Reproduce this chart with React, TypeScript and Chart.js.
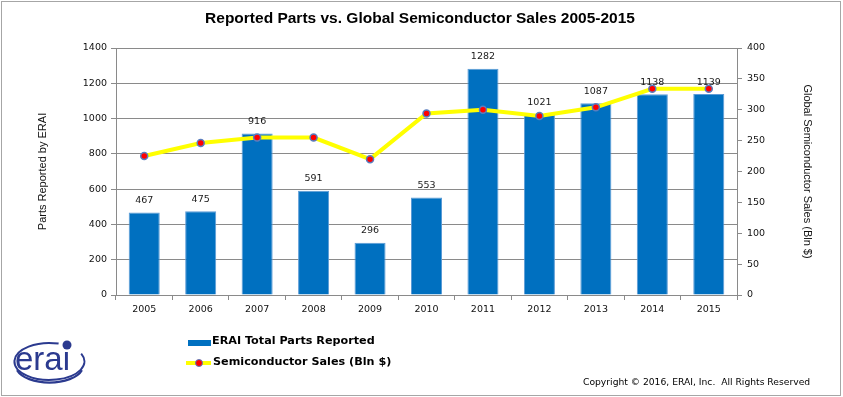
import React, { useEffect, useRef } from "react";
import { Chart, registerables } from "chart.js";

Chart.register(...registerables);

const years = ["2005", "2006", "2007", "2008", "2009", "2010", "2011", "2012", "2013", "2014", "2015"];
const partsReported = [467, 475, 916, 591, 296, 553, 1282, 1021, 1087, 1138, 1139];
const semiSales = [225, 246, 255, 255, 220, 294, 300, 290, 304, 334, 334];
const partsLabel = "ERAI Total Parts Reported";
const salesLabel = "Semiconductor Sales (Bln $)";
const titleText = "Reported Parts vs. Global Semiconductor Sales 2005-2015";
const leftTitle = "Parts Reported by ERAI";
const rightTitle = "Global Semiconductor Sales (Bln $)";
const copyright = "Copyright \u00A9 2016, ERAI, Inc.  All Rights Reserved";

const BAR = "#0070C0";
const GRID = "#8A8A8A";
const NAVY = "#2B3A8F";
const TICK_FONT = { family: "'DejaVu Sans', Verdana, sans-serif", size: 9.5 };

const barLabels = {
  id: "barLabels",
  afterDatasetDraw(chart: any, args: any) {
    if (args.index !== 1) return;
    const ctx = chart.ctx;
    ctx.save();
    ctx.font = "9.5px 'DejaVu Sans', Verdana, sans-serif";
    ctx.fillStyle = "#1a1a1a";
    ctx.textAlign = "center";
    ctx.textBaseline = "middle";
    args.meta.data.forEach((el: any, i: number) => {
      ctx.fillText(String(partsReported[i]), el.x, el.y - 12);
    });
    ctx.restore();
  },
};

export default function App() {
  const ref = useRef<HTMLCanvasElement>(null);
  useEffect(() => {
    document.body.style.margin = "0";
    const chart = new Chart(ref.current as HTMLCanvasElement, {
      type: "bar",
      data: {
        labels: years,
        datasets: [
          {
            type: "line",
            label: salesLabel,
            data: semiSales,
            yAxisID: "y1",
            borderColor: "#FFFF00",
            borderWidth: 4,
            tension: 0,
            pointRadius: 3.5,
            pointBackgroundColor: "#FF0000",
            pointBorderColor: "#5A7DBE",
            pointBorderWidth: 1.5,
          } as any,
          {
            type: "bar",
            label: partsLabel,
            data: partsReported,
            yAxisID: "y",
            backgroundColor: BAR,
            borderColor: "#5C9BD6",
            borderWidth: 1,
            categoryPercentage: 1,
            barPercentage: 0.55,
          } as any,
        ],
      },
      options: {
        responsive: false,
        animation: false,
        devicePixelRatio: 1,
        layout: { padding: { left: 30, right: 20, top: 48, bottom: 77 } },
        plugins: { legend: { display: false }, tooltip: { enabled: false }, title: { display: false } },
        scales: {
          x: {
            offset: true,
            grid: { offset: true, drawOnChartArea: false, drawTicks: true, tickLength: 5, color: GRID },
            border: { color: GRID },
            ticks: { font: TICK_FONT, color: "#111", padding: 4, maxRotation: 0 },
            afterFit: (s: any) => { s.height = 25; },
          },
          y: {
            position: "left",
            min: 0,
            max: 1400,
            ticks: { stepSize: 200, font: TICK_FONT, color: "#111", padding: 4, callback: (v: any) => String(v) },
            grid: { color: GRID, tickLength: 5 },
            border: { color: GRID },
            title: {
              display: true,
              text: leftTitle,
              font: { family: "'Liberation Sans', Arial, sans-serif", size: 11 },
              color: "#111",
              padding: { top: 6, bottom: 0 },
            },
            afterFit: (s: any) => { s.width = 86; },
          },
          y1: {
            position: "right",
            min: 0,
            max: 400,
            ticks: { stepSize: 50, font: TICK_FONT, color: "#111", padding: 5, callback: (v: any) => String(v) },
            grid: { drawOnChartArea: false, color: GRID, tickLength: 5 },
            border: { color: GRID },
            title: {
              display: true,
              text: rightTitle,
              font: { family: "'Liberation Sans', Arial, sans-serif", size: 11 },
              color: "#111",
              padding: { top: 9, bottom: 0 },
            },
            afterFit: (s: any) => { s.width = 86; },
          },
        },
      } as any,
      plugins: [barLabels],
    });
    return () => chart.destroy();
  }, []);

  return (
    <div style={{ position: "relative", width: 843, height: 397, background: "#fff", overflow: "hidden" }}>
      <canvas ref={ref} width={843} height={397} style={{ position: "absolute", left: 0, top: 0 }} />
      <div
        style={{
          position: "absolute", left: 1, top: 1, width: 838, height: 393,
          border: "1px solid #A6A6A6", pointerEvents: "none",
        }}
      />
      <div
        style={{
          position: "absolute", left: 0, width: 840, top: 9, textAlign: "center",
          font: "bold 15.5px 'Liberation Sans', Arial, sans-serif", color: "#000",
        }}
      >
        {titleText}
      </div>
      {/* legend */}
      <div style={{ position: "absolute", left: 188, top: 340, width: 23, height: 6, background: BAR }} />
      <div
        style={{
          position: "absolute", left: 212, top: 334, whiteSpace: "pre",
          font: "bold 11.2px 'DejaVu Sans', Verdana, sans-serif", color: "#000",
        }}
      >
        {partsLabel}
      </div>
      <div style={{ position: "absolute", left: 186, top: 361, width: 25, height: 4, background: "#FFFF00" }} />
      <div
        style={{
          position: "absolute", left: 195, top: 359, width: 6, height: 6, borderRadius: 4,
          background: "#FF0000", border: "1px solid #5A7DBE",
        }}
      />
      <div
        style={{
          position: "absolute", left: 213, top: 355, whiteSpace: "pre",
          font: "bold 11.2px 'DejaVu Sans', Verdana, sans-serif", color: "#000",
        }}
      >
        {salesLabel}
      </div>
      {/* logo */}
      <svg style={{ position: "absolute", left: 5, top: 330 }} width={90} height={60}>
        <path d="M 53.6 13.6 A 35 18.5 0 1 0 76.2 23.7" fill="none" stroke={NAVY} strokeWidth={2} />
        <path d="M 12 39 A 34 17.5 0 0 0 77 39" fill="none" stroke={NAVY} strokeWidth={2.2} transform="translate(0 1.2)" />
        <text x={10} y={40} fontFamily="'Liberation Sans', Arial, sans-serif" fontSize={33} fill={NAVY}>erai</text>
        <circle cx={62} cy={15} r={4.5} fill={NAVY} />
      </svg>
      <div
        style={{
          position: "absolute", left: 583, top: 376, whiteSpace: "pre",
          font: "9.2px 'DejaVu Sans', Verdana, sans-serif", color: "#000",
        }}
      >
        {copyright}
      </div>
    </div>
  );
}
